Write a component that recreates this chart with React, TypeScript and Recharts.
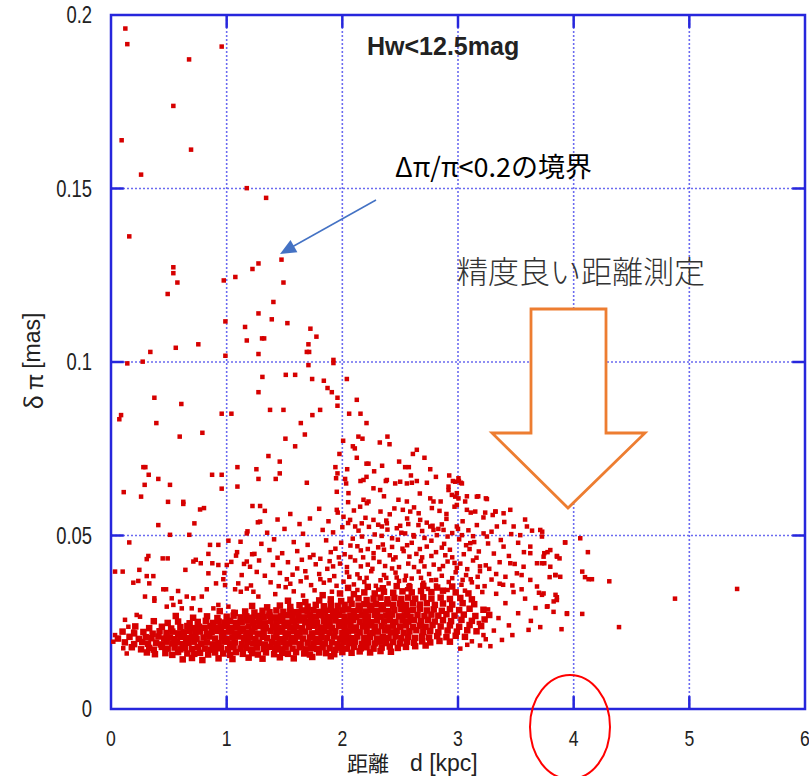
import React from "react";
import {
  ScatterChart,
  Scatter,
  XAxis,
  YAxis,
  CartesianGrid,
  ReferenceArea,
  ReferenceLine,
} from "recharts";

// distance d [kpc], parallax error δπ [mas]
const upperSparse: [number, number][] = [
  [0.124, 0.1961], [0.141, 0.1916], [0.957, 0.1909], [0.675, 0.1872], [0.539, 0.1738], [0.092, 0.1639],
  [0.692, 0.1612], [0.26, 0.154], [1.174, 0.1501], [1.341, 0.1473], [0.158, 0.1362],
  [0.539, 0.1273], [0.539, 0.1256], [0.574, 0.1229], [0.49, 0.1196], [0.975, 0.1235], [1.075, 0.1245],
  [1.223, 0.1268], [1.275, 0.1284], [1.474, 0.1295], [1.491, 0.1229], [1.404, 0.1173], [1.275, 0.114],
  [1.39, 0.1123], [1.525, 0.1112], [0.989, 0.1117], [1.159, 0.1101], [1.174, 0.1062], [1.306, 0.1068],
  [1.324, 0.1068], [1.275, 0.1023], [1.724, 0.1096], [1.776, 0.1073], [1.707, 0.1051], [1.693, 0.1029],
  [1.713, 0.1029], [1.707, 0.0991], [1.923, 0.1006], [1.923, 0.0997], [0.755, 0.1051], [0.56, 0.1041],
  [0.34, 0.1029], [0.274, 0.1001], [0.141, 0.0996], [0.989, 0.1018], [1.309, 0.0957], [1.511, 0.0963],
  [1.592, 0.0963], [1.739, 0.0951], [2.039, 0.0951],
  [1.275, 0.0913], [0.375, 0.0897], [0.608, 0.0879], [0.087, 0.0847], [0.072, 0.0835], [0.392, 0.0824],
  [0.957, 0.0851], [1.041, 0.0851], [0.594, 0.0785], [0.79, 0.0796], [1.361, 0.0729], [0.28, 0.0697],
  [0.297, 0.0697], [0.326, 0.0675], [0.409, 0.0663], [0.291, 0.0646], [0.51, 0.0646], [0.11, 0.0625],
  [0.26, 0.0612], [0.874, 0.0675], [0.957, 0.0675], [0.957, 0.0635], [1.093, 0.0697], [1.093, 0.0641],
  [1.257, 0.0691], [1.275, 0.0663], [0.493, 0.0597], [0.625, 0.0597], [0.625, 0.0591], [0.77, 0.0575],
  [0.804, 0.0579], [1.223, 0.0585], [1.289, 0.0585],
  [1.84, 0.0946], [1.872, 0.0925], [1.909, 0.0913], [1.958, 0.0897], [1.958, 0.0874], [2.125, 0.0891],
  [2.059, 0.0851], [2.157, 0.0851], [2.209, 0.0824], [1.375, 0.0862], [1.491, 0.0862], [1.741, 0.0847],
  [1.808, 0.0862], [1.641, 0.0824], [1.676, 0.0791], [1.508, 0.0779], [1.592, 0.0757], [2.007, 0.0773],
  [1.975, 0.0735], [2.091, 0.0757], [2.108, 0.0751], [2.139, 0.0785], [2.174, 0.0779], [2.125, 0.0724],
  [2.209, 0.0707], [2.226, 0.0707], [2.324, 0.0768], [2.39, 0.0785], [2.408, 0.0763], [2.042, 0.0691],
  [1.94, 0.0697], [1.958, 0.0679], [1.459, 0.0713], [1.424, 0.0663], [1.459, 0.0679], [1.693, 0.0652],
  [2.024, 0.0663], [2.157, 0.0657], [2.209, 0.0669], [2.275, 0.0685], [2.344, 0.0701], [2.491, 0.0713],
  [2.543, 0.0697], [2.575, 0.0697], [2.61, 0.0735], [2.644, 0.0747], [2.71, 0.0724], [2.76, 0.0691],
  [2.809, 0.0669], [2.593, 0.0673], [2.644, 0.0657], [2.376, 0.0657], [2.924, 0.0673], [2.956, 0.0657],
  [3.008, 0.0657], [3.025, 0.0652], [3.175, 0.0613], [3.241, 0.0607], [3.077, 0.0613], [3.452, 0.0574],
  [3.325, 0.0569],
];

const upperMid: [number, number][] = [
  [2.183, 0.066], [2.385, 0.066], [2.457, 0.065], [2.5, 0.0655], [2.558, 0.065], [2.601, 0.0652],
  [2.731, 0.0652], [2.918, 0.0641], [2.976, 0.0655], [3.004, 0.0665], [3.034, 0.065], [2.99, 0.0622],
  [3.004, 0.0607], [1.946, 0.0665], [2.033, 0.065], [2.269, 0.0636], [2.327, 0.0631], [1.952, 0.0626],
  [2.053, 0.0622], [2.183, 0.0603], [2.226, 0.0598], [2.212, 0.0593], [2.154, 0.0583], [2.485, 0.0603],
  [2.523, 0.0574], [2.558, 0.0598], [2.587, 0.0569], [2.673, 0.0545], [2.76, 0.0607], [2.774, 0.0579],
  [2.788, 0.0598], [2.918, 0.0631], [2.947, 0.0617], [2.976, 0.0612], [2.99, 0.0588], [3.062, 0.0598],
  [3.077, 0.0574], [3.163, 0.0612], [3.25, 0.0605], [3.149, 0.0569], [3.235, 0.0566], [3.322, 0.0569],
  [3.394, 0.0564], [1.952, 0.0574], [2.01, 0.0554], [2.067, 0.0545], [2.111, 0.0526], [2.168, 0.0535],
  [2.269, 0.0545], [2.342, 0.0526], [2.385, 0.0535], [2.471, 0.0521], [2.543, 0.0506], [2.615, 0.0501],
  [2.658, 0.053], [2.76, 0.0526], [2.788, 0.0516], [2.817, 0.0501], [2.875, 0.0516], [2.99, 0.0526],
  [3.034, 0.0501], [3.106, 0.0478], [3.163, 0.053], [3.221, 0.0506], [3.25, 0.0497], [3.336, 0.0526],
  [3.394, 0.0468], [3.481, 0.0526], [3.538, 0.0501], [3.596, 0.0526], [3.625, 0.0468], [3.711, 0.0516],
  [3.726, 0.0497], [3.798, 0.0458], [3.856, 0.0439], [3.927, 0.048], [3.625, 0.0449], [3.683, 0.042],
  [3.74, 0.0439], [3.798, 0.041], [3.841, 0.0386], [3.884, 0.0381], [3.942, 0.0276], [3.452, 0.042],
  [3.509, 0.0391], [3.567, 0.041], [3.625, 0.0372], [3.683, 0.0353], [3.74, 0.0333], [3.769, 0.0295],
  [3.827, 0.031],
];

const farPoints: [number, number][] = [
  [3.728, 0.0511], [3.925, 0.048], [4.057, 0.0492], [4.123, 0.0452], [3.746, 0.0449], [3.774, 0.0452],
  [3.855, 0.0441], [3.878, 0.0434], [3.726, 0.042], [3.746, 0.042], [4.074, 0.0396], [4.098, 0.038],
  [4.129, 0.0374], [4.158, 0.0374], [4.308, 0.0368], [3.792, 0.038], [3.843, 0.0386], [3.726, 0.0329],
  [3.843, 0.0329], [3.855, 0.0322], [3.855, 0.0314], [3.774, 0.0296], [3.826, 0.028], [3.942, 0.0274],
  [4.074, 0.0274], [3.711, 0.0236], [3.895, 0.023], [4.392, 0.0236], [4.876, 0.0318], [5.413, 0.0346],
];

const leftMid: [number, number][] = [
  [0.409, 0.053], [0.721, 0.0535], [0.51, 0.0502], [0.677, 0.0502], [1.174, 0.0506], [1.289, 0.054],
  [0.158, 0.048], [0.856, 0.0473], [0.928, 0.0473], [1.015, 0.0485], [0.323, 0.0441], [0.309, 0.0432],
  [0.447, 0.0434], [0.49, 0.0434], [0.842, 0.0447], [0.712, 0.0425], [0.733, 0.043], [0.776, 0.042],
  [0.876, 0.042], [0.928, 0.0415], [1.001, 0.0415], [1.081, 0.0442], [1.174, 0.0425], [1.202, 0.041],
  [1.24, 0.0447], [0.035, 0.0396], [0.101, 0.0396], [0.245, 0.0401], [0.643, 0.0401], [0.842, 0.0391],
  [0.193, 0.0364], [0.236, 0.0369], [0.309, 0.0383], [0.366, 0.0383], [0.331, 0.0362], [0.971, 0.0374],
  [0.986, 0.0357], [0.908, 0.0362], [0.828, 0.0345], [1.073, 0.0345], [1.122, 0.0338], [1.174, 0.0347],
  [1.231, 0.0338], [1.274, 0.0324], [0.452, 0.0345], [0.476, 0.0345], [0.58, 0.034], [0.294, 0.0324],
  [0.375, 0.0319], [0.375, 0.0312], [0.525, 0.0319], [0.597, 0.0309], [0.655, 0.0324], [0.712, 0.0319],
  [0.785, 0.0324], [0.482, 0.0295], [0.539, 0.03], [0.612, 0.029], [0.698, 0.029], [0.77, 0.0285],
  [0.885, 0.029], [0.928, 0.03], [1.015, 0.0295], [1.058, 0.028], [0.121, 0.0257], [0.035, 0.0213],
  [0.02, 0.0194], [0.106, 0.0175], [0.136, 0.016], [0.222, 0.0271], [0.251, 0.0266], [0.15, 0.0237],
  [0.193, 0.0223],
];

const middleBand: [number, number][] = [
  [1.33, 0.0571], [1.55, 0.0562], [1.8, 0.0577], [1.96, 0.0566], [2.1, 0.0572], [2.33, 0.0569], [2.45, 0.0578],
  [2.66, 0.0564], [2.84, 0.0571], [2.97, 0.0583], [3.11, 0.0566], [3.3, 0.0559],
  [1.27, 0.0538], [1.44, 0.0546], [1.63, 0.0533], [1.72, 0.0549], [1.88, 0.0541], [2.05, 0.0536], [2.2, 0.0551],
  [2.38, 0.0543], [2.56, 0.0549], [2.73, 0.0537], [2.9, 0.0548], [3.04, 0.0541], [3.22, 0.0552], [3.4, 0.0539],
  [3.58, 0.0546],
  [1.18, 0.0512], [1.35, 0.0508], [1.5, 0.0519], [1.66, 0.0505], [1.83, 0.0516], [1.92, 0.0509], [2.14, 0.0514],
  [2.28, 0.0503], [2.39, 0.0517], [2.51, 0.0508], [2.69, 0.0513], [2.83, 0.0519], [2.95, 0.0507], [3.09, 0.0515],
  [3.29, 0.0511], [3.46, 0.0504], [3.64, 0.0514],
  [1.12, 0.0482], [1.3, 0.0476], [1.41, 0.0489], [1.58, 0.0481], [1.7, 0.0473], [1.86, 0.0486], [1.99, 0.0479],
  [2.09, 0.0491], [2.24, 0.0483], [2.35, 0.0474], [2.48, 0.0488], [2.6, 0.0479], [2.77, 0.0485], [2.88, 0.0476],
  [3.01, 0.0489], [3.14, 0.0481], [3.26, 0.0477], [3.37, 0.0487], [3.52, 0.0479],
  [1.09, 0.0452], [1.22, 0.0446], [1.37, 0.0458], [1.48, 0.0449], [1.61, 0.0455], [1.75, 0.0444], [1.9, 0.0452],
  [2.02, 0.0446], [2.16, 0.0457], [2.27, 0.0449], [2.41, 0.0443], [2.53, 0.0455], [2.64, 0.0447], [2.81, 0.0452],
  [2.93, 0.0459], [3.05, 0.0446], [3.18, 0.0454], [3.31, 0.0448], [3.44, 0.0441], [3.57, 0.0452],
  [1.04, 0.0424], [1.15, 0.0418], [1.28, 0.0428], [1.4, 0.0415], [1.53, 0.0423], [1.65, 0.043], [1.77, 0.0417],
  [1.89, 0.0426], [1.98, 0.0419], [2.11, 0.0428], [2.22, 0.0416], [2.32, 0.0424], [2.44, 0.0431], [2.57, 0.0419],
  [2.68, 0.0426], [2.79, 0.0416], [2.91, 0.0425], [3.02, 0.0419], [3.13, 0.0428], [3.24, 0.0414], [3.36, 0.0423],
  [3.49, 0.0418],
  [0.98, 0.0392], [1.13, 0.0386], [1.26, 0.0395], [1.33, 0.0384], [1.46, 0.0392], [1.57, 0.0387], [1.68, 0.0397],
  [1.8, 0.0389], [1.93, 0.0383], [2.04, 0.0394], [2.13, 0.0388], [2.25, 0.0397], [2.36, 0.0386], [2.46, 0.0393],
  [2.55, 0.0384], [2.66, 0.0396], [2.75, 0.0389], [2.86, 0.0384], [2.98, 0.0394], [3.07, 0.0386], [3.19, 0.0397],
  [3.33, 0.0389], [3.41, 0.0381], [3.55, 0.0386],
  [1.1, 0.0362], [1.21, 0.0356], [1.38, 0.0365], [1.45, 0.0354], [1.55, 0.0361], [1.64, 0.0368], [1.73, 0.0357],
  [1.84, 0.0364], [1.95, 0.0355], [2.01, 0.0367], [2.1, 0.0359], [2.19, 0.0366], [2.29, 0.0355], [2.4, 0.0362],
  [2.49, 0.0369], [2.58, 0.0357], [2.7, 0.0364], [2.81, 0.0356], [2.92, 0.0366], [3.03, 0.0358], [3.12, 0.0365],
  [3.23, 0.0354], [3.36, 0.0361], [3.47, 0.0356],
  [2.07, 0.0471], [2.18, 0.0437], [2.31, 0.0466], [2.43, 0.0405], [2.52, 0.0462], [2.62, 0.0409], [2.73, 0.0468],
  [2.84, 0.0403], [2.95, 0.0437], [2.26, 0.0404], [2.38, 0.0378], [2.6, 0.0376], [2.81, 0.0372], [3.08, 0.0403],
  [2.15, 0.0377], [1.97, 0.0437], [1.87, 0.0404], [1.72, 0.0437], [1.61, 0.0405], [1.44, 0.0436], [1.52, 0.0374],
  [1.81, 0.0374], [2.5, 0.0528], [2.78, 0.0528], [2.23, 0.0525], [2.0, 0.0524], [3.16, 0.0436], [3.27, 0.0404],
  [3.11, 0.0374], [2.99, 0.0407], [2.69, 0.0437], [2.46, 0.0437], [2.34, 0.0499], [2.62, 0.0497], [2.91, 0.0497],
];

const middleExtra: [number, number][] = [
  [1.42, 0.0331], [1.58, 0.0339], [1.66, 0.0327], [1.76, 0.0342], [1.91, 0.0338], [2.13, 0.0343], [2.31, 0.0344],
  [2.56, 0.0345], [2.74, 0.0346], [2.91, 0.0343], [3.06, 0.0341], [3.21, 0.0337],
  [1.51, 0.0351], [1.69, 0.0379], [1.89, 0.0371], [2.06, 0.0381], [2.21, 0.0378], [2.33, 0.0371], [2.47, 0.0379],
  [2.54, 0.0371], [2.68, 0.0378], [2.77, 0.0371], [2.95, 0.0377], [3.04, 0.0372], [3.17, 0.0381], [3.29, 0.0373],
  [1.92, 0.0411], [2.04, 0.0409], [2.16, 0.0411], [2.37, 0.0412], [2.49, 0.0409], [2.71, 0.0411], [2.87, 0.0412],
  [2.97, 0.0421], [3.19, 0.0411],
  [1.81, 0.0433], [2.07, 0.0438], [2.27, 0.0435], [2.36, 0.0459], [2.58, 0.0439], [2.77, 0.0441], [2.89, 0.0443],
  [3.1, 0.0461],
  [1.94, 0.0462], [2.13, 0.0469], [2.22, 0.0461], [2.43, 0.0467], [2.56, 0.0472], [2.67, 0.0461], [2.86, 0.0465],
  [3.07, 0.0472],
  [2.17, 0.0497], [2.43, 0.0492], [2.57, 0.0533], [2.71, 0.0493], [2.86, 0.0532], [3.0, 0.0519], [3.13, 0.0498],
  [2.31, 0.0531], [2.41, 0.0561], [2.62, 0.0581], [2.9, 0.0562], [2.05, 0.0596], [2.36, 0.0613], [2.67, 0.0621],
  [2.85, 0.0598],
];

const coreBand: [number, number][] = [
  [0.62, 0.0143], [0.7, 0.0147], [0.79, 0.0141], [0.93, 0.0146], [1.05, 0.0144], [1.19, 0.0148], [1.31, 0.0145],
  [1.46, 0.0149], [1.58, 0.0146], [1.74, 0.015], [1.9, 0.0152],
  [0.31, 0.0163], [0.38, 0.0158], [0.47, 0.0161], [0.53, 0.0156], [0.58, 0.0164], [0.66, 0.016], [0.72, 0.0159],
  [0.77, 0.0162], [0.84, 0.0157], [0.9, 0.0163], [0.97, 0.016], [1.03, 0.0156], [1.08, 0.0164], [1.14, 0.0159],
  [1.22, 0.0161], [1.27, 0.0157], [1.34, 0.0163], [1.41, 0.0158], [1.48, 0.0162], [1.53, 0.0159], [1.6, 0.0164],
  [1.67, 0.016], [1.72, 0.0157], [1.8, 0.0163], [1.86, 0.0161], [1.93, 0.0158], [2.0, 0.0164], [2.08, 0.0162],
  [2.15, 0.0166], [2.24, 0.0163], [2.33, 0.0167], [2.42, 0.0165],
  [0.18, 0.0178], [0.26, 0.0172], [0.33, 0.0176], [0.37, 0.0171], [0.44, 0.0179], [0.49, 0.0174], [0.55, 0.0177],
  [0.6, 0.0172], [0.64, 0.0176], [0.7, 0.0173], [0.75, 0.0178], [0.81, 0.0174], [0.86, 0.0171], [0.91, 0.0177],
  [0.95, 0.0175], [1.01, 0.0172], [1.06, 0.0178], [1.12, 0.0174], [1.17, 0.0176], [1.21, 0.0171], [1.26, 0.0177],
  [1.32, 0.0173], [1.37, 0.0179], [1.42, 0.0175], [1.46, 0.0172], [1.51, 0.0177], [1.57, 0.0174], [1.63, 0.0178],
  [1.68, 0.0172], [1.73, 0.0176], [1.78, 0.0173], [1.83, 0.0178], [1.89, 0.0175], [1.94, 0.0171], [1.99, 0.0177],
  [2.04, 0.0174], [2.1, 0.0179], [2.16, 0.0175], [2.21, 0.0178], [2.27, 0.0174], [2.34, 0.0177], [2.41, 0.018],
  [2.48, 0.0176], [2.55, 0.0179], [2.63, 0.0181], [2.72, 0.0183],
  [0.12, 0.0192], [0.2, 0.0187], [0.27, 0.0193], [0.32, 0.0188], [0.39, 0.0191], [0.43, 0.0186], [0.48, 0.0194],
  [0.53, 0.0189], [0.57, 0.0192], [0.62, 0.0187], [0.67, 0.0191], [0.72, 0.0194], [0.78, 0.0188], [0.83, 0.0192],
  [0.88, 0.0186], [0.93, 0.019], [0.98, 0.0194], [1.03, 0.0188], [1.07, 0.0192], [1.13, 0.0187], [1.18, 0.0193],
  [1.23, 0.0189], [1.28, 0.0191], [1.33, 0.0186], [1.39, 0.0193], [1.44, 0.0188], [1.49, 0.0192], [1.54, 0.0189],
  [1.59, 0.0194], [1.64, 0.0187], [1.7, 0.0191], [1.75, 0.0188], [1.8, 0.0193], [1.85, 0.0189], [1.91, 0.0192],
  [1.96, 0.0187], [2.01, 0.0193], [2.06, 0.019], [2.11, 0.0194], [2.17, 0.0188], [2.22, 0.0192], [2.28, 0.0189],
  [2.33, 0.0194], [2.38, 0.019], [2.44, 0.0193], [2.5, 0.0189], [2.56, 0.0194], [2.62, 0.0191], [2.69, 0.0195],
  [2.76, 0.0192], [2.84, 0.0196], [2.93, 0.0194],
  [0.06, 0.0203], [0.16, 0.0208], [0.24, 0.0202], [0.3, 0.0207], [0.35, 0.0204], [0.41, 0.0209], [0.46, 0.0203],
  [0.51, 0.0206], [0.55, 0.0201], [0.6, 0.0208], [0.65, 0.0204], [0.7, 0.0207], [0.74, 0.0202], [0.8, 0.0206],
  [0.85, 0.0209], [0.9, 0.0203], [0.96, 0.0207], [1.0, 0.0202], [1.05, 0.0206], [1.1, 0.0209], [1.15, 0.0204],
  [1.2, 0.0207], [1.25, 0.0202], [1.31, 0.0208], [1.35, 0.0204], [1.41, 0.0206], [1.46, 0.0201], [1.51, 0.0207],
  [1.56, 0.0204], [1.61, 0.0209], [1.66, 0.0203], [1.72, 0.0206], [1.77, 0.0202], [1.82, 0.0208], [1.87, 0.0205],
  [1.93, 0.0209], [1.98, 0.0203], [2.03, 0.0207], [2.08, 0.0204], [2.13, 0.0209], [2.19, 0.0205], [2.24, 0.0208],
  [2.3, 0.0203], [2.35, 0.0207], [2.4, 0.0205], [2.46, 0.0209], [2.51, 0.0204], [2.57, 0.0208], [2.63, 0.0205],
  [2.69, 0.0209], [2.75, 0.0206], [2.82, 0.021], [2.9, 0.0207], [2.98, 0.0211], [3.06, 0.0208],
  [0.1, 0.0223], [0.2, 0.0218], [0.28, 0.0222], [0.36, 0.0217], [0.42, 0.0224], [0.48, 0.0219], [0.53, 0.0223],
  [0.58, 0.0218], [0.63, 0.0221], [0.68, 0.0225], [0.73, 0.0219], [0.77, 0.0223], [0.83, 0.0217], [0.87, 0.0222],
  [0.92, 0.0225], [0.97, 0.0219], [1.02, 0.0223], [1.07, 0.0218], [1.12, 0.0224], [1.17, 0.022], [1.22, 0.0223],
  [1.27, 0.0217], [1.32, 0.0222], [1.38, 0.0225], [1.43, 0.0219], [1.48, 0.0223], [1.53, 0.0218], [1.58, 0.0224],
  [1.63, 0.022], [1.68, 0.0223], [1.74, 0.0218], [1.79, 0.0222], [1.84, 0.0225], [1.89, 0.022], [1.94, 0.0224],
  [2.0, 0.0219], [2.05, 0.0223], [2.1, 0.0226], [2.15, 0.0221], [2.21, 0.0224], [2.26, 0.0219], [2.31, 0.0223],
  [2.37, 0.0226], [2.42, 0.0221], [2.47, 0.0225], [2.53, 0.022], [2.58, 0.0224], [2.64, 0.0227], [2.7, 0.0222],
  [2.76, 0.0225], [2.83, 0.0221], [2.91, 0.0226], [2.99, 0.0223], [3.08, 0.0227], [3.16, 0.0224],
  [0.21, 0.0238], [0.33, 0.0233], [0.44, 0.0237], [0.52, 0.0232], [0.6, 0.0236], [0.66, 0.0239], [0.71, 0.0233],
  [0.76, 0.0237], [0.81, 0.0234], [0.86, 0.0239], [0.9, 0.0233], [0.95, 0.0236], [1.0, 0.0239], [1.04, 0.0234],
  [1.09, 0.0237], [1.14, 0.0232], [1.19, 0.0238], [1.24, 0.0235], [1.29, 0.0239], [1.34, 0.0233], [1.4, 0.0237],
  [1.45, 0.0234], [1.5, 0.0239], [1.55, 0.0235], [1.6, 0.0238], [1.65, 0.0233], [1.71, 0.0237], [1.76, 0.024],
  [1.81, 0.0235], [1.86, 0.0238], [1.91, 0.0234], [1.97, 0.0239], [2.02, 0.0236], [2.07, 0.024], [2.12, 0.0235],
  [2.18, 0.0238], [2.23, 0.0241], [2.28, 0.0236], [2.34, 0.0239], [2.39, 0.0235], [2.44, 0.024], [2.5, 0.0237],
  [2.55, 0.0241], [2.61, 0.0236], [2.67, 0.024], [2.72, 0.0237], [2.78, 0.0242], [2.85, 0.0238], [2.93, 0.0241],
  [3.01, 0.0237], [3.1, 0.0242], [3.2, 0.0239],
  [0.37, 0.0253], [0.49, 0.0248], [0.58, 0.0252], [0.68, 0.0247], [0.75, 0.0251], [0.82, 0.0254], [0.88, 0.0248],
  [0.93, 0.0252], [0.98, 0.0249], [1.03, 0.0254], [1.08, 0.0248], [1.13, 0.0251], [1.18, 0.0255], [1.23, 0.0249],
  [1.28, 0.0252], [1.33, 0.0247], [1.38, 0.0253], [1.43, 0.025], [1.48, 0.0254], [1.53, 0.0249], [1.58, 0.0252],
  [1.63, 0.0255], [1.68, 0.025], [1.73, 0.0253], [1.78, 0.0249], [1.84, 0.0254], [1.89, 0.0251], [1.94, 0.0255],
  [1.99, 0.025], [2.04, 0.0253], [2.09, 0.0256], [2.15, 0.0251], [2.2, 0.0254], [2.25, 0.025], [2.3, 0.0255],
  [2.36, 0.0252], [2.41, 0.0256], [2.46, 0.0251], [2.52, 0.0255], [2.57, 0.0252], [2.62, 0.0256], [2.68, 0.0253],
  [2.74, 0.0257], [2.8, 0.0252], [2.87, 0.0256], [2.94, 0.0253], [3.03, 0.0257], [3.12, 0.0254], [3.23, 0.0258],
  [0.56, 0.0268], [0.71, 0.0263], [0.83, 0.0267], [0.92, 0.0262], [1.0, 0.0266], [1.06, 0.0269], [1.12, 0.0264],
  [1.17, 0.0267], [1.22, 0.0263], [1.27, 0.0268], [1.32, 0.0265], [1.37, 0.0269], [1.42, 0.0264], [1.47, 0.0267],
  [1.52, 0.027], [1.57, 0.0265], [1.62, 0.0268], [1.67, 0.0264], [1.72, 0.0269], [1.77, 0.0266], [1.82, 0.027],
  [1.87, 0.0265], [1.92, 0.0268], [1.97, 0.0271], [2.02, 0.0266], [2.07, 0.0269], [2.12, 0.0265], [2.17, 0.027],
  [2.22, 0.0267], [2.28, 0.0271], [2.33, 0.0266], [2.38, 0.0269], [2.43, 0.0272], [2.49, 0.0267], [2.54, 0.027],
  [2.59, 0.0266], [2.65, 0.0271], [2.71, 0.0268], [2.77, 0.0272], [2.83, 0.0269], [2.9, 0.0273], [2.97, 0.0269],
  [3.05, 0.0272], [3.15, 0.0268], [3.27, 0.0271],
  [0.94, 0.0282], [1.07, 0.0277], [1.16, 0.0281], [1.24, 0.0278], [1.31, 0.0283], [1.37, 0.0279], [1.43, 0.0284],
  [1.49, 0.028], [1.55, 0.0283], [1.6, 0.0279], [1.65, 0.0284], [1.7, 0.0281], [1.75, 0.0285], [1.8, 0.028],
  [1.85, 0.0283], [1.9, 0.0286], [1.95, 0.0281], [2.0, 0.0284], [2.05, 0.0287], [2.1, 0.0282], [2.15, 0.0285],
  [2.2, 0.0281], [2.25, 0.0286], [2.3, 0.0283], [2.35, 0.0287], [2.4, 0.0282], [2.45, 0.0285], [2.51, 0.0288],
  [2.56, 0.0283], [2.61, 0.0286], [2.67, 0.0289], [2.73, 0.0284], [2.79, 0.0287], [2.86, 0.0283], [2.93, 0.0288],
  [3.01, 0.0285], [3.1, 0.0289], [3.22, 0.0286],
  [1.22, 0.0297], [1.35, 0.0293], [1.46, 0.0298], [1.55, 0.0294], [1.63, 0.0299], [1.7, 0.0295], [1.77, 0.03],
  [1.84, 0.0296], [1.9, 0.0301], [1.96, 0.0297], [2.02, 0.03], [2.08, 0.0303], [2.14, 0.0298], [2.19, 0.0302],
  [2.24, 0.0298], [2.29, 0.0303], [2.34, 0.0299], [2.39, 0.0304], [2.44, 0.03], [2.5, 0.0304], [2.55, 0.03],
  [2.61, 0.0305], [2.67, 0.0301], [2.73, 0.0305], [2.8, 0.03], [2.87, 0.0304], [2.95, 0.0301], [3.04, 0.0305],
  [3.14, 0.0302],
  [1.53, 0.0312], [1.68, 0.0308], [1.8, 0.0313], [1.9, 0.0316], [1.99, 0.0311], [2.07, 0.0315], [2.14, 0.0319],
  [2.21, 0.0314], [2.27, 0.0318], [2.33, 0.0321], [2.39, 0.0316], [2.45, 0.032], [2.51, 0.0317], [2.57, 0.0321],
  [2.63, 0.0318], [2.7, 0.0322], [2.77, 0.0318], [2.85, 0.0321], [2.93, 0.0317], [3.02, 0.032], [3.12, 0.0316],
  [1.83, 0.0328], [1.98, 0.0333], [2.1, 0.0331], [2.19, 0.0336], [2.28, 0.0333], [2.36, 0.0338], [2.44, 0.0335],
  [2.52, 0.0339], [2.6, 0.0336], [2.68, 0.034], [2.77, 0.0337], [2.87, 0.0341], [2.98, 0.0336], [3.09, 0.0333],
  [2.05, 0.0349], [2.22, 0.0352], [2.35, 0.0348], [2.47, 0.0354], [2.58, 0.0351], [2.7, 0.0355], [2.82, 0.035],
  [2.95, 0.0353],
];

const tailBand: [number, number][] = [
  [3.12, 0.0195], [3.18, 0.0248], [3.22, 0.0213], [3.26, 0.0287], [3.31, 0.0226], [3.35, 0.0262], [3.41, 0.0305],
  [3.44, 0.0241], [3.52, 0.0276], [3.58, 0.0318], [3.63, 0.0254], [3.67, 0.0291], [3.28, 0.0181], [3.38, 0.0199],
  [3.47, 0.0213], [3.33, 0.0332], [3.55, 0.0345], [3.7, 0.0335], [3.24, 0.0201], [3.48, 0.0337], [3.39, 0.0358],
  [3.17, 0.0352], [3.02, 0.0174], [3.08, 0.0185], [3.61, 0.0228], [3.19, 0.0183],
];

const xTicks = [0, 1, 2, 3, 4, 5, 6];
const yTicks = [0, 0.05, 0.1, 0.15, 0.2];
const xInner = [1, 2, 3, 4, 5];
const yInner = [0.05, 0.1, 0.15];

const RED = "#d60000";
const BLUE = "#2626dc";
const GRID = "#6b6bf0";
const SANS = "'Liberation Sans', Arial, sans-serif";

const toPts = (arr: [number, number][]) => arr.map(([x, y]) => ({ x, y }));
const sparsePts = toPts([...upperSparse, ...upperMid, ...farPoints, ...leftMid, ...middleBand, ...middleExtra, ...tailBand]);
const densePts = toPts(coreBand);

const square = (size: number) => (props: any) => {
  const { cx, cy } = props;
  if (cx == null || cy == null) return <g />;
  return <rect x={cx - size / 2} y={cy - size / 2} width={size} height={size} fill={RED} />;
};

const fmtY = (v: number) => (v === 0 ? "0" : String(v));

const YTick = (props: any) => {
  const { x, y, payload } = props;
  return (
    <text
      x={x}
      y={y}
      dy="0.36em"
      textAnchor="end"
      transform={`translate(${x} 0) scale(0.8 1) translate(${-x} 0)`}
      fontFamily={SANS}
      fontSize={23}
      fill="#222"
    >
      {fmtY(payload.value)}
    </text>
  );
};

const XTick = (props: any) => {
  const { x, y, payload } = props;
  return (
    <text
      x={x}
      y={y}
      dy="0.71em"
      textAnchor="middle"
      transform={`translate(${x} 0) scale(0.8 1) translate(${-x} 0)`}
      fontFamily={SANS}
      fontSize={22}
      fill="#222"
    >
      {String(payload.value)}
    </text>
  );
};

export default function App() {
  return (
    <div style={{ position: "absolute", left: 0, top: 0, width: 809, height: 776, background: "#fff" }}>
      <ScatterChart width={809} height={776} margin={{ top: 15, right: 4, bottom: 0, left: 0 }}>
        <CartesianGrid stroke={GRID} strokeDasharray="2 2" strokeWidth={1.6} />
        <XAxis
          type="number"
          dataKey="x"
          domain={[0, 6]}
          ticks={xTicks}
          height={67}
          tickSize={0}
          tickMargin={21}
          axisLine={false}
          tickLine={false}
          tick={<XTick />}
          allowDataOverflow
        />
        <YAxis
          type="number"
          dataKey="y"
          domain={[0, 0.2]}
          ticks={yTicks}
          width={111}
          tickSize={0}
          tickMargin={19}
          axisLine={false}
          tickLine={false}
          tick={<YTick />}
          allowDataOverflow
        />
        <Scatter data={densePts} isAnimationActive={false} shape={square(6.5)} />
        <Scatter data={sparsePts} isAnimationActive={false} shape={square(4.5)} />
        <ReferenceArea x1={0} x2={6} y1={0} y2={0.2} fill="none" stroke={BLUE} strokeWidth={2.5} ifOverflow="visible" />
        {xInner.map((k) => (
          <ReferenceLine key={"xb" + k} segment={[{ x: k, y: 0 }, { x: k, y: 0.0037 }]} stroke={BLUE} strokeWidth={2.5} ifOverflow="visible" />
        ))}
        {xInner.map((k) => (
          <ReferenceLine key={"xt" + k} segment={[{ x: k, y: 0.2 }, { x: k, y: 0.2 - 0.0037 }]} stroke={BLUE} strokeWidth={2.5} ifOverflow="visible" />
        ))}
        {yInner.map((v) => (
          <ReferenceLine key={"yl" + v} segment={[{ x: 0, y: v }, { x: 0.11, y: v }]} stroke={BLUE} strokeWidth={2.5} ifOverflow="visible" />
        ))}
        {yInner.map((v) => (
          <ReferenceLine key={"yr" + v} segment={[{ x: 6, y: v }, { x: 5.89, y: v }]} stroke={BLUE} strokeWidth={2.5} ifOverflow="visible" />
        ))}
      </ScatterChart>
      <svg
        width={809}
        height={776}
        style={{ position: "absolute", left: 0, top: 0, pointerEvents: "none" }}
      >
        <text x={367} y={55} fontFamily={SANS} fontWeight="bold" fontSize={25} fill="#222">
          Hw&lt;12.5mag
        </text>
        <text x={395} y={177} fontFamily="'Noto Sans CJK JP', sans-serif" fontSize={27} fill="#000">
          Δπ/π&lt;0.2の境界
        </text>
        <text x={457} y={283} fontFamily="'Noto Sans CJK JP', sans-serif" fontSize={31} fontWeight={300} fill="#333">
          精度良い距離測定
        </text>
        <line x1={376} y1={200} x2={292} y2={247} stroke="#4472C4" strokeWidth={1.5} />
        <polygon points="280,254 297.4,252.3 290.5,240.1" fill="#4472C4" />
        <polygon
          points="531,309 606,309 606,433 645,433 568,508 492,433 531,433"
          fill="#fff"
          stroke="#ED7D31"
          strokeWidth={2.8}
          strokeLinejoin="miter"
        />
        <ellipse cx={570} cy={727} rx={40} ry={52} fill="none" stroke="#ff0000" strokeWidth={2} />
        <text
          x={32}
          y={361}
          transform="rotate(-90 32 361)"
          textAnchor="middle"
          dominantBaseline="central"
          fontFamily={SANS}
          fontSize={23}
          fill="#222"
        >
          <tspan fontFamily="'Noto Sans CJK JP', sans-serif" fontSize={24}>δ π </tspan>
          <tspan>[mas]</tspan>
        </text>
        <text y={771} fill="#222">
          <tspan x={347} fontFamily="'Noto Sans CJK JP', sans-serif" fontSize={21}>距離</tspan>
          <tspan x={410} fontFamily={SANS} fontSize={23}>d [kpc]</tspan>
        </text>
      </svg>
    </div>
  );
}
